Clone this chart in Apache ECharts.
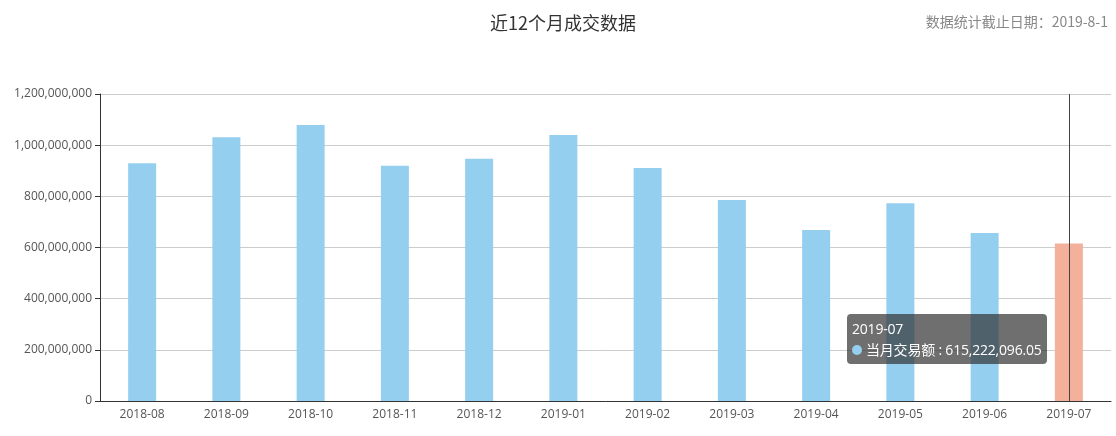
<!DOCTYPE html>
<html>
<head>
<meta charset="utf-8">
<script src="https://cdn.jsdelivr.net/npm/echarts@6/dist/echarts.min.js"></script>
<style>
html,body{margin:0;padding:0;background:#fff;}
#main{width:1116px;height:436px;}
</style>
</head>
<body>
<div id="main"></div>
<script>
var titleText = '近12个月成交数据';
var subText = '数据统计截止日期：2019-8-1';
var seriesName = '当月交易额';
var months = ['2018-08','2018-09','2018-10','2018-11','2018-12','2019-01','2019-02','2019-03','2019-04','2019-05','2019-06','2019-07'];
var amounts = [929000000, 1031000000, 1079000000, 920000000, 947000000, 1040000000, 911000000, 786000000, 668000000, 773000000, 657000000, 615222096.05];
var yTicks = [0, 200000000, 400000000, 600000000, 800000000, 1000000000, 1200000000];
var highlightIndex = 11;

var FONT = '"Open Sans", "Noto Sans CJK SC", sans-serif';
var CJK = '"Noto Sans CJK SC", "Noto Sans", sans-serif';

function fmt(v, dec) {
  var parts = v.toFixed(dec).split('.');
  parts[0] = parts[0].replace(/\B(?=(\d{3})+(?!\d))/g, ',');
  return parts.join('.');
}

var chart = echarts.init(document.getElementById('main'));
var option = {
  animation: false,
  backgroundColor: '#fff',
  title: [
    { text: titleText, left: 558, top: 9, textAlign: 'center',
      textStyle: { fontSize: 18, fontWeight: 'normal', color: '#333', fontFamily: CJK } },
    { text: subText, right: 3, top: 10,
      textStyle: { fontSize: 14, fontWeight: 'normal', color: '#888', fontFamily: CJK } }
  ],
  grid: { left: 100, right: 5, top: 94, bottom: 35, containLabel: false },
  tooltip: {
    trigger: 'axis',
    alwaysShowContent: true,
    position: [847, 314],
    backgroundColor: 'rgba(50,50,50,0.7)',
    borderWidth: 0,
    borderRadius: 4,
    padding: [4, 5],
    extraCssText: 'box-shadow:none;',
    textStyle: { color: '#fff', fontSize: 14, fontFamily: FONT },
    axisPointer: { type: 'line', lineStyle: { color: '#444', width: 1, type: 'solid' } },
    formatter: function (params) {
      var p = params[0];
      return '<div style="line-height:21px;letter-spacing:-0.2px">' + p.name + '<br/>' +
        '<span style="display:inline-block;margin-right:4px;border-radius:10px;width:10px;height:10px;background-color:#94cfef;"></span>' +
        p.seriesName + ' : ' + fmt(p.value, 2) + '</div>';
    }
  },
  xAxis: {
    type: 'category',
    data: months,
    axisLine: { lineStyle: { color: '#333' } },
    axisTick: { alignWithLabel: true, lineStyle: { color: '#333' } },
    axisLabel: { color: '#555', fontSize: 12, margin: 8, fontFamily: FONT },
    splitLine: { show: false }
  },
  yAxis: {
    type: 'value',
    min: yTicks[0],
    max: yTicks[yTicks.length - 1],
    interval: yTicks[1] - yTicks[0],
    axisLine: { show: true, lineStyle: { color: '#333' } },
    axisTick: { show: true, lineStyle: { color: '#333' } },
    axisLabel: { color: '#555', fontSize: 12, fontFamily: FONT, formatter: function (v) { return fmt(v, 0); } },
    splitLine: { lineStyle: { color: '#ccc' } }
  },
  series: [{
    name: seriesName,
    type: 'bar',
    barWidth: 28,
    itemStyle: { color: '#94cfef' },
    emphasis: { disabled: true },
    data: amounts.map(function (v, i) {
      return i === highlightIndex ? { value: v, itemStyle: { color: '#f3b09b' } } : v;
    })
  }]
};
chart.setOption(option);
chart.dispatchAction({ type: 'showTip', seriesIndex: 0, dataIndex: highlightIndex });
</script>
</body>
</html>
